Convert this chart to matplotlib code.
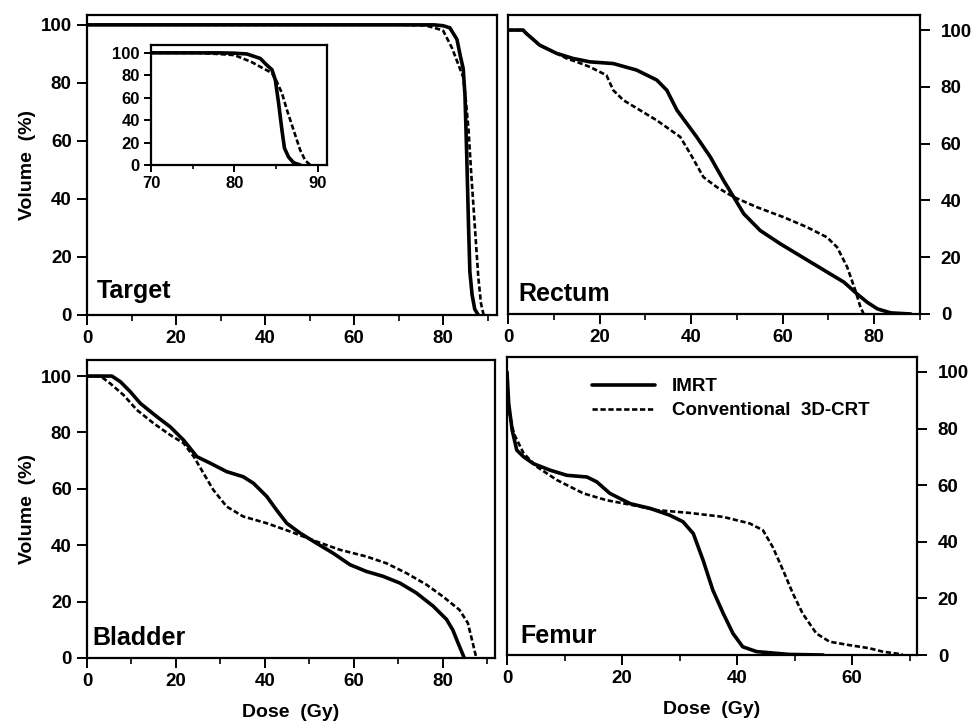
import matplotlib
matplotlib.use("Agg")
import matplotlib.pyplot as plt
from matplotlib.ticker import MultipleLocator

plt.rcParams['font.family'] = ['Liberation Sans', 'DejaVu Sans']
plt.rcParams['font.weight'] = 'bold'

# ===============================
# Data
# ===============================

# Target
target_imrt_dose = [0, 70, 78, 80, 81.5, 83.1, 83.9, 84.5, 84.9, 85.3, 85.7, 86.0, 86.5, 87.1, 87.9]
target_imrt_vol = [100, 100, 100, 99.7, 99, 95, 89, 85, 76, 55, 31, 15, 7, 2, 0]
target_conv_dose = [0, 70, 76, 78, 80, 82, 83.5, 84.5, 85.1, 85.7, 86.3, 87.1, 87.9, 88.5, 89.1]
target_conv_vol = [100, 100, 99.8, 99, 98, 92, 86, 82, 74, 64, 49, 31, 13, 4, 0]

# Rectum
rectum_imrt_dose = [0, 3.3, 4, 5.5, 6.9, 10.6, 14.2, 17.9, 23, 28.1, 32.5, 34.7, 36.9, 41.2, 44.2,
                    47.1, 49.3, 51.5, 55.1, 59.5, 63.1, 66.8, 70.4, 73.4, 76.3, 78.5, 80.7, 83.6, 88]
rectum_imrt_vol = [100, 100, 98.8, 96.7, 94.7, 91.8, 90, 88.8, 88.2, 85.9, 82.4, 78.8, 71.8, 62.4, 55.3,
                   47, 41.2, 35.3, 29.4, 24.7, 21.2, 17.6, 14.1, 11.2, 7, 4.1, 1.8, 0.4, 0]
rectum_conv_dose = [0, 3.3, 4, 5.5, 6.9, 10.6, 12.8, 15, 17.9, 21.5, 23, 25.2, 28.8, 32.5, 37.6, 39.8,
                    42.7, 45.6, 49.3, 54.4, 60.2, 65.3, 69.7, 71.9, 74.1, 75.9, 77, 77.7]
rectum_conv_vol = [100, 100, 98.8, 96.7, 94.7, 91.8, 90, 88.8, 87, 84.1, 78.8, 75.3, 71.8, 68.2, 62.4, 56.5,
                   48.2, 44.7, 41.2, 37.6, 34.1, 30.6, 27, 23.5, 16.5, 8.2, 2.4, 0]

# Bladder
bladder_imrt_dose = [0, 5.6, 7.5, 9.7, 12, 15.7, 18.7, 21.7, 24.7, 27.7, 31.4, 35.1, 37.4, 40.4, 42.6,
                     44.9, 47.9, 51.6, 55.3, 59.1, 62.8, 66.5, 70.3, 74, 77.8, 80.8, 82.2, 83.4, 84.8]
bladder_imrt_vol = [100, 100, 98, 94.5, 90.3, 85.6, 82, 77.3, 71.4, 69.1, 66.1, 64.3, 62, 57.3, 52.5,
                    47.8, 44.3, 40.7, 37.2, 33.1, 30.7, 29, 26.6, 23.1, 18.4, 13.7, 10, 5.3, 0]
bladder_conv_dose = [0, 3, 5.2, 8.2, 11.2, 15, 18.7, 21.7, 24, 26.2, 28.4, 31.4, 35.1, 40.4, 45.6,
                     51.6, 56.8, 62.8, 67.3, 71.8, 76.3, 80, 83.7, 85.6, 86.7, 87.5]
bladder_conv_vol = [100, 100, 97.4, 93.3, 88, 83.2, 79.1, 76.2, 71.4, 65.5, 59.6, 53.7, 50.2, 47.8, 44.9,
                    41.3, 38.4, 36, 33.6, 30.1, 26, 21.8, 17.1, 12.4, 5.3, 0]

# Femur
femur_imrt_dose = [0, 0.3, 0.9, 1.7, 2.9, 4.6, 7.5, 10.4, 13.9, 15.6, 17.9, 21.4, 24.9, 28.3, 30.6,
                   32.4, 34.1, 35.8, 37.6, 39.3, 41, 43.4, 49.1, 55]
femur_imrt_vol = [100, 88.8, 79.4, 72.4, 70, 67.6, 65.3, 63.5, 62.9, 61.2, 57.1, 53.5, 51.8, 49.4, 47.1,
                  42.9, 33.5, 22.9, 14.7, 7.6, 2.9, 1.2, 0.2, 0]
femur_conv_dose = [0, 0.3, 1.2, 2.9, 5.2, 8.7, 13.3, 17.3, 22, 26, 31.8, 37.6, 42.2, 44.5, 46.2, 48,
                   49.7, 51.4, 53.8, 56.1, 59.5, 63, 65.3, 68.8]
femur_conv_vol = [100, 86.5, 78.2, 71.2, 66.5, 61.8, 57.1, 54.7, 52.9, 51.2, 50.2, 48.8, 46.5, 44.1, 38.2, 30,
                  21.8, 14.7, 7.6, 4.7, 3.5, 2.4, 1.2, 0.2]

IMRT_STYLE = dict(color="black", lw=2.6, solid_capstyle="round", solid_joinstyle="round")
CONV_STYLE = dict(color="black", lw=1.9, linestyle=(0, (2.0, 1.0)))


def style_axes(ax, right=False, xmax=90, xmajor=20, tick_size=13.5):
    for s in ax.spines.values():
        s.set_linewidth(1.6)
    ax.xaxis.set_major_locator(MultipleLocator(xmajor))
    ax.xaxis.set_minor_locator(MultipleLocator(xmajor / 2))
    ax.yaxis.set_major_locator(MultipleLocator(20))
    ax.tick_params(axis="both", which="major", direction="out", length=7, width=1.4,
                   labelsize=tick_size, pad=4)
    ax.tick_params(axis="x", which="minor", direction="out", length=4, width=1.2)
    ax.tick_params(axis="y", which="minor", left=False, right=False)
    if right:
        ax.yaxis.tick_right()
        ax.tick_params(axis="y", which="major", pad=8)
        for lbl in ax.get_yticklabels():
            lbl.set_horizontalalignment("left")
    for lbl in ax.get_xticklabels() + ax.get_yticklabels():
        lbl.set_fontweight("bold")


def main():
    fig = plt.figure(figsize=(9.76, 7.27), dpi=100)

    # positions in figure fractions, from the pixel layout of the reference
    ax_t = fig.add_axes([87 / 976, 1 - 315 / 727, 410 / 976, 300 / 727])
    ax_r = fig.add_axes([508 / 976, 1 - 314 / 727, 412 / 976, 299 / 727])
    ax_b = fig.add_axes([87 / 976, 1 - 658 / 727, 408 / 976, 298 / 727])
    ax_f = fig.add_axes([507 / 976, 1 - 655 / 727, 410 / 976, 298 / 727])
    ax_in = fig.add_axes([151 / 976, 1 - 165 / 727, 176 / 976, 120 / 727])

    # Target
    ax_t.plot(target_imrt_dose, target_imrt_vol, **IMRT_STYLE)
    ax_t.plot(target_conv_dose, target_conv_vol, **CONV_STYLE)
    ax_t.set_xlim(0, 92.1)
    ax_t.set_ylim(0, 103.4)
    style_axes(ax_t)
    ax_t.set_ylabel("Volume  (%)", fontsize=14, fontweight="bold", labelpad=3)
    ax_t.text(0.024, 0.057, "Target", transform=ax_t.transAxes, fontsize=18,
              fontweight="bold", va="baseline")

    # Inset (zoom on the target fall-off)
    ax_in.plot(target_imrt_dose, target_imrt_vol, **IMRT_STYLE)
    ax_in.plot(target_conv_dose, target_conv_vol, **CONV_STYLE)
    ax_in.set_xlim(70, 91.1)
    ax_in.set_ylim(0, 107)
    style_axes(ax_in, xmajor=10, tick_size=12)
    ax_in.tick_params(axis="both", which="major", length=5, pad=3)
    ax_in.tick_params(axis="x", which="minor", length=3)

    # Rectum
    ax_r.plot(rectum_imrt_dose, rectum_imrt_vol, **IMRT_STYLE)
    ax_r.plot(rectum_conv_dose, rectum_conv_vol, **CONV_STYLE)
    ax_r.set_xlim(0, 90)
    ax_r.set_ylim(0, 105.3)
    style_axes(ax_r, right=True)
    ax_r.text(0.024, 0.044, "Rectum", transform=ax_r.transAxes, fontsize=18,
              fontweight="bold", va="baseline")

    # Bladder
    ax_b.plot(bladder_imrt_dose, bladder_imrt_vol, **IMRT_STYLE)
    ax_b.plot(bladder_conv_dose, bladder_conv_vol, **CONV_STYLE)
    ax_b.set_xlim(0, 91.7)
    ax_b.set_ylim(0, 105.7)
    style_axes(ax_b)
    ax_b.set_ylabel("Volume  (%)", fontsize=14, fontweight="bold", labelpad=3)
    ax_b.set_xlabel("Dose  (Gy)", fontsize=14, fontweight="bold", labelpad=10)
    ax_b.text(0.012, 0.044, "Bladder", transform=ax_b.transAxes, fontsize=18,
              fontweight="bold", va="baseline")

    # Femur
    ax_f.plot(femur_imrt_dose, femur_imrt_vol, label="IMRT", **IMRT_STYLE)
    ax_f.plot(femur_conv_dose, femur_conv_vol, label="Conventional  3D-CRT", **CONV_STYLE)
    ax_f.set_xlim(0, 71.3)
    ax_f.set_ylim(0, 105.3)
    style_axes(ax_f, right=True)
    ax_f.set_xlabel("Dose  (Gy)", fontsize=14, fontweight="bold", labelpad=10)
    ax_f.text(0.032, 0.04, "Femur", transform=ax_f.transAxes, fontsize=18,
              fontweight="bold", va="baseline")
    ax_f.legend(loc="upper left", bbox_to_anchor=(0.165, 0.985), frameon=False,
                handlelength=3.4, handletextpad=0.9, labelspacing=0.35,
                prop={"weight": "bold", "size": 13.5})

    fig.savefig("out.png", dpi=100)


if __name__ == "__main__":
    main()
